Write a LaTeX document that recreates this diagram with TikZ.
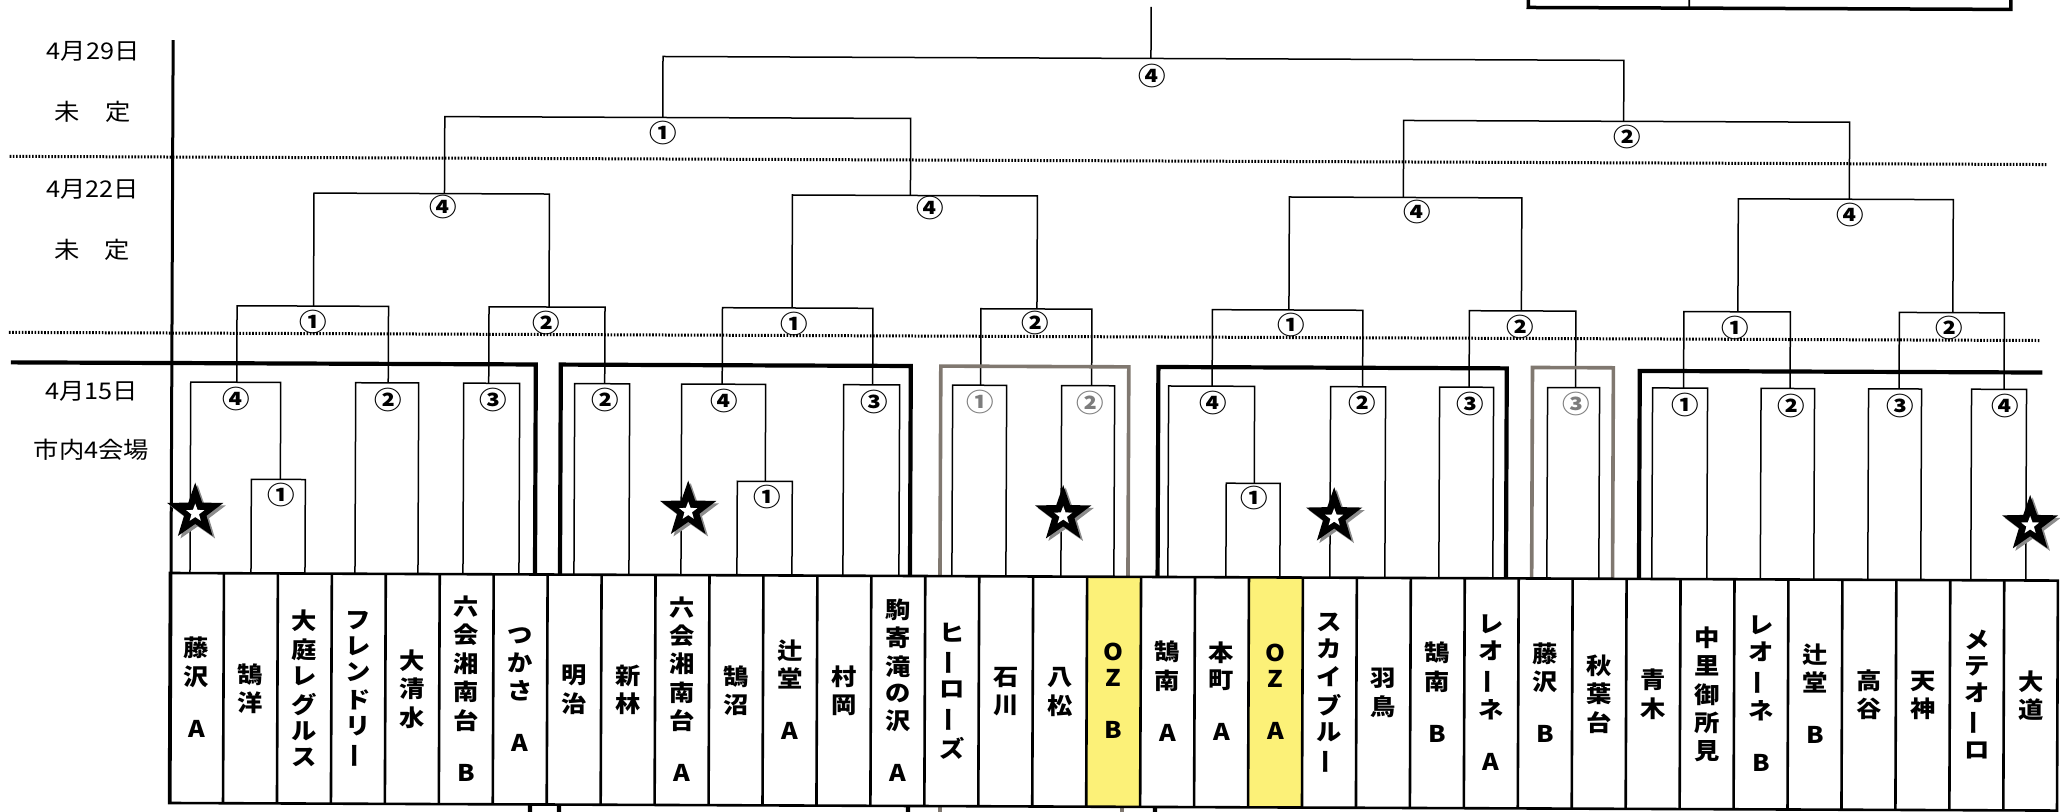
\documentclass[tikz,border=0pt]{standalone}
\usepackage{fontspec}
\usetikzlibrary{shapes.geometric}
\newfontfamily\jp{Noto Sans CJK JP}[FakeStretch=1.1]
\definecolor{boxgray}{RGB}{128,120,112}
\definecolor{labgray}{RGB}{125,125,125}
\definecolor{ozyellow}{RGB}{252,241,120}
\newcommand\Cho{\raisebox{0.17em}{\rotatebox[origin=c]{90}{ー}}}
\tikzset{
  br/.style={line width=1.5pt},
  lab/.style={font=\jp\bfseries\fontsize{25}{25}\selectfont, inner sep=0pt},
  glab/.style={lab, text=labgray},
  team/.style={font=\jp\bfseries\fontsize{23}{26}\selectfont, align=center, inner sep=0pt},
  side/.style={font=\jp\fontsize{23}{23}\selectfont, inner sep=0pt},
  grp/.style={line width=4.2pt},
  ggrp/.style={line width=3.6pt, draw=boxgray},
  tbl/.style={line width=2.6pt},
  axisline/.style={line width=3pt},
  dotl/.style={line width=3pt, dash pattern=on 1.6pt off 1.6pt},
  bstar/.style={star, star points=5, star point ratio=2.5, minimum size=59pt, inner sep=0pt, fill=black},
  sstar/.style={star, star points=5, star point ratio=2.5, minimum size=59pt, inner sep=0pt, fill=black!45},
  wstar/.style={star, star points=5, star point ratio=2.4, minimum size=19pt, inner sep=0pt, fill=white},
}
\begin{document}
\begin{tikzpicture}[x=1pt,y=-1pt]
\useasboundingbox (0,0) rectangle (2060,811);
\fill[white] (0,0) rectangle (2060,811);
\begin{scope}[rotate around={-0.23:(170,573)}]
% top-right partial box
\draw[line width=3.5pt] (1526,-12) -- (1526,2) -- (2008.6,2) -- (2008.6,-12);
\draw[line width=1.6pt] (1687,-12) -- (1687,2);
% side labels
\node[side] (d29) at (91,52) {4月29日};
\node[side] (u29) at (91,112) {未　定};
\node[side] (d22) at (91,190) {4月22日};
\node[side] (u22) at (91,250) {未　定};
\node[side] (d15) at (91,392) {4月15日};
\node[side] (v15) at (91,450) {市内4会場};
% dotted separators
\draw[dotl] (8,157) -- (2046,157);
\draw[dotl] (8,333) -- (2040,333);
% axis
\draw[axisline] (171,40) -- (171,803);
% yellow cells
\fill[ozyellow] ({170+17*53.95},573) rectangle ({170+18*53.95},803);
\fill[ozyellow] ({170+20*53.95},573) rectangle ({170+21*53.95},803);
% feet coordinates
\coordinate (f1) at (190,573);  \coordinate (f2) at (251,573);  \coordinate (f3) at (305,573);
\coordinate (f4) at (355,573);  \coordinate (f5) at (418,573);  \coordinate (f6) at (463,573);
\coordinate (f7) at (519,573);  \coordinate (f8) at (574,573);  \coordinate (f9) at (629,573);
\coordinate (f10) at (681,573); \coordinate (f11) at (737,573); \coordinate (f12) at (792,573);
\coordinate (f13) at (843,573); \coordinate (f14) at (899,573); \coordinate (f15) at (952,573);
\coordinate (f16) at (1006,573);\coordinate (f17) at (1061,573);\coordinate (f18) at (1114,573);
\coordinate (f19) at (1168,573);\coordinate (f20) at (1226,573);\coordinate (f21) at (1280,573);
\coordinate (f22) at (1330,573);\coordinate (f23) at (1385,573);\coordinate (f24) at (1439,573);
\coordinate (f25) at (1493,573);\coordinate (f26) at (1547,573);\coordinate (f27) at (1599,573);
\coordinate (f28) at (1652,573);\coordinate (f29) at (1707,573);\coordinate (f30) at (1760.5,573);
\coordinate (f31) at (1814,573);\coordinate (f32) at (1868,573);\coordinate (f33) at (1921,573);
\coordinate (f34) at (1971,573);\coordinate (f35) at (2026,573);
% match coordinates
\coordinate (m1a) at (280,479);   \coordinate (m1b) at (236,382);
\coordinate (m1c) at (387.5,382); \coordinate (m1d) at (488,382);
\coordinate (m2a) at (604,382);   \coordinate (m2b) at (765,479);
\coordinate (m2c) at (721.5,382); \coordinate (m2d) at (872,382);
\coordinate (m3a) at (980,382);   \coordinate (m3b) at (1091,382);
\coordinate (m4a) at (1254,479);  \coordinate (m4b) at (1211.5,382);
\coordinate (m4c) at (1362,382);  \coordinate (m4d) at (1468.5,382);
\coordinate (m5a) at (1575,382);
\coordinate (m6a) at (1683,382);  \coordinate (m6b) at (1789.5,382);
\coordinate (m6c) at (1898.5,382);\coordinate (m6d) at (2003.5,382);
\coordinate (r1) at (312.5,305.5); \coordinate (r2) at (548,305.5);
\coordinate (r3) at (791,305.5);   \coordinate (r4) at (1036,305.5);
\coordinate (r5) at (1288,305.5);  \coordinate (r6) at (1520.5,305.5);
\coordinate (r7) at (1737,305.5);  \coordinate (r8) at (1952,305.5);
\coordinate (q1) at (443,192.5);   \coordinate (q2) at (909,192.5);
\coordinate (q3) at (1402,192.5);  \coordinate (q4) at (1848,192.5);
\coordinate (s1) at (661,115.5);   \coordinate (s2) at (1622,115.5);
\coordinate (fin) at (1149,54.5);  \coordinate (top) at (1149,3);
% brackets
\draw[br] (f2) |- (m1a) -| (f3);
\draw[br] (f1) |- (m1b) -| (m1a);
\draw[br] (f4) |- (m1c) -| (f5);
\draw[br] (f6) |- (m1d) -| (f7);
\draw[br] (f8) |- (m2a) -| (f9);
\draw[br] (f11) |- (m2b) -| (f12);
\draw[br] (f10) |- (m2c) -| (m2b);
\draw[br] (f13) |- (m2d) -| (f14);
\draw[br] (f15) |- (m3a) -| (f16);
\draw[br] (f17) |- (m3b) -| (f18);
\draw[br] (f20) |- (m4a) -| (f21);
\draw[br] (f19) |- (m4b) -| (m4a);
\draw[br] (f22) |- (m4c) -| (f23);
\draw[br] (f24) |- (m4d) -| (f25);
\draw[br] (f26) |- (m5a) -| (f27);
\draw[br] (f28) |- (m6a) -| (f29);
\draw[br] (f30) |- (m6b) -| (f31);
\draw[br] (f32) |- (m6c) -| (f33);
\draw[br] (f34) |- (m6d) -| (f35);
\draw[br] (m1b) |- (r1) -| (m1c);
\draw[br] (m1d) |- (r2) -| (m2a);
\draw[br] (m2c) |- (r3) -| (m2d);
\draw[br] (m3a) |- (r4) -| (m3b);
\draw[br] (m4b) |- (r5) -| (m4c);
\draw[br] (m4d) |- (r6) -| (m5a);
\draw[br] (m6a) |- (r7) -| (m6b);
\draw[br] (m6c) |- (r8) -| (m6d);
\draw[br] (r1) |- (q1) -| (r2);
\draw[br] (r3) |- (q2) -| (r4);
\draw[br] (r5) |- (q3) -| (r6);
\draw[br] (r7) |- (q4) -| (r8);
\draw[br] (q1) |- (s1) -| (q2);
\draw[br] (q3) |- (s2) -| (q4);
\draw[br] (s1) |- (fin) -| (s2);
\draw[br] (fin) -- (top);
% group boxes
\draw[grp] (10,363) -- (535,363) -- (535,573);
\draw[grp] (560,573) -- (560,363) -- (910,363) -- (910,573);
\draw[ggrp] (940,573) -- (940,363) -- (1128,363) -- (1128,573);
\draw[grp] (1157.6,573) -- (1157.6,363) -- (1506,363) -- (1506,573);
\draw[ggrp] (1531.7,573) -- (1531.7,362) -- (1612.6,362) -- (1612.6,573);
\draw[grp] (1639,573) -- (1639,365) -- (2041.7,365);
% stubs below the table
\draw[grp] (531,803) -- (531,816);
\draw[grp] (560,803) -- (560,816);
\draw[grp] (909,803) -- (909,816);
\draw[ggrp] (941,803) -- (941,816);
\draw[ggrp] (1123,803) -- (1123,816);
\draw[grp] (1156,803) -- (1156,816);
% labels
\node[lab] (l1a) at (281,494.5) {①};
\node[lab] (l1b) at (236,398.5) {④};
\node[lab] (l1c) at (387.5,399) {②};
\node[lab] (l1d) at (493,399) {③};
\node[lab] (l2a) at (605,398) {②};
\node[lab] (l2b) at (767,494.5) {①};
\node[lab] (l2c) at (724,398.5) {④};
\node[lab] (l2d) at (874,399) {③};
\node[glab] (l3a) at (980,399) {①};
\node[glab] (l3b) at (1090,399) {②};
\node[lab] (l4a) at (1254,494) {①};
\node[lab] (l4b) at (1213,398.5) {④};
\node[lab] (l4c) at (1362,398.5) {②};
\node[lab] (l4d) at (1470,398.5) {③};
\node[glab] (l5a) at (1576,398.5) {③};
\node[lab] (l6a) at (1685,399) {①};
\node[lab] (l6b) at (1791,399) {②};
\node[lab] (l6c) at (1900,399) {③};
\node[lab] (l6d) at (2005,398.5) {④};
\node[lab] (lr1) at (312.5,321) {①};
\node[lab] (lr2) at (545.5,321) {②};
\node[lab] (lr3) at (793,321) {①};
\node[lab] (lr4) at (1034,320) {②};
\node[lab] (lr5) at (1290.5,320.5) {①};
\node[lab] (lr6) at (1519.5,321.5) {②};
\node[lab] (lr7) at (1734,321.5) {①};
\node[lab] (lr8) at (1948.5,321) {②};
\node[lab] (lq1) at (442,205.5) {④};
\node[lab] (lq2) at (929,205) {④};
\node[lab] (lq3) at (1416,207) {④};
\node[lab] (lq4) at (1849,208) {④};
\node[lab] (ls1) at (661,131) {①};
\node[lab] (ls2) at (1625.5,131.5) {②};
\node[lab] (lf) at (1150,72) {④};
% stars
\foreach \nm/\sx/\sy in {a/195/512, b/688/508, c/1063/511, d/1334/512, e/2030/517}{
  \node[sstar] (sh\nm) at (\sx+2.5,\sy+2.5) {};
  \node[bstar] (st\nm) at (\sx,\sy) {};
  \node[wstar] (sw\nm) at (\sx,\sy+1) {};
}
% name table
\draw[tbl] (170,573) rectangle (2058,803);
\foreach \i in {1,...,34} \draw[tbl] ({170+\i*53.95},573) -- ({170+\i*53.95},803);
% team names
\node[team] (t1) at ({170+0.5*53.95},691) {\strut 藤\\\strut 沢\\\strut\\\strut A};
\node[team] (t2) at ({170+1.5*53.95},691) {\strut 鵠\\\strut 洋};
\node[team] (t3) at ({170+2.5*53.95},691) {\strut 大\\\strut 庭\\\strut レ\\\strut グ\\\strut ル\\\strut ス};
\node[team] (t4) at ({170+3.5*53.95},691) {\strut フ\\\strut レ\\\strut ン\\\strut ド\\\strut リ\\\strut\Cho};
\node[team] (t5) at ({170+4.5*53.95},691) {\strut 大\\\strut 清\\\strut 水};
\node[team] (t6) at ({170+5.5*53.95},691) {\strut 六\\\strut 会\\\strut 湘\\\strut 南\\\strut 台\\\strut\\\strut B};
\node[team] (t7) at ({170+6.5*53.95},691) {\strut つ\\\strut か\\\strut さ\\\strut\\\strut A};
\node[team] (t8) at ({170+7.5*53.95},691) {\strut 明\\\strut 治};
\node[team] (t9) at ({170+8.5*53.95},691) {\strut 新\\\strut 林};
\node[team] (t10) at ({170+9.5*53.95},691) {\strut 六\\\strut 会\\\strut 湘\\\strut 南\\\strut 台\\\strut\\\strut A};
\node[team] (t11) at ({170+10.5*53.95},691) {\strut 鵠\\\strut 沼};
\node[team] (t12) at ({170+11.5*53.95},691) {\strut 辻\\\strut 堂\\\strut\\\strut A};
\node[team] (t13) at ({170+12.5*53.95},691) {\strut 村\\\strut 岡};
\node[team] (t14) at ({170+13.5*53.95},691) {\strut 駒\\\strut 寄\\\strut 滝\\\strut の\\\strut 沢\\\strut\\\strut A};
\node[team] (t15) at ({170+14.5*53.95},691) {\strut ヒ\\\strut\Cho\\\strut ロ\\\strut\Cho\\\strut ズ};
\node[team] (t16) at ({170+15.5*53.95},691) {\strut 石\\\strut 川};
\node[team] (t17) at ({170+16.5*53.95},691) {\strut 八\\\strut 松};
\node[team] (t18) at ({170+17.5*53.95},691) {\strut O\\\strut Z\\\strut\\\strut B};
\node[team] (t19) at ({170+18.5*53.95},691) {\strut 鵠\\\strut 南\\\strut\\\strut A};
\node[team] (t20) at ({170+19.5*53.95},691) {\strut 本\\\strut 町\\\strut\\\strut A};
\node[team] (t21) at ({170+20.5*53.95},691) {\strut O\\\strut Z\\\strut\\\strut A};
\node[team] (t22) at ({170+21.5*53.95},691) {\strut ス\\\strut カ\\\strut イ\\\strut ブ\\\strut ル\\\strut\Cho};
\node[team] (t23) at ({170+22.5*53.95},691) {\strut 羽\\\strut 鳥};
\node[team] (t24) at ({170+23.5*53.95},691) {\strut 鵠\\\strut 南\\\strut\\\strut B};
\node[team] (t25) at ({170+24.5*53.95},691) {\strut レ\\\strut オ\\\strut\Cho\\\strut ネ\\\strut\\\strut A};
\node[team] (t26) at ({170+25.5*53.95},691) {\strut 藤\\\strut 沢\\\strut\\\strut B};
\node[team] (t27) at ({170+26.5*53.95},691) {\strut 秋\\\strut 葉\\\strut 台};
\node[team] (t28) at ({170+27.5*53.95},691) {\strut 青\\\strut 木};
\node[team] (t29) at ({170+28.5*53.95},691) {\strut 中\\\strut 里\\\strut 御\\\strut 所\\\strut 見};
\node[team] (t30) at ({170+29.5*53.95},691) {\strut レ\\\strut オ\\\strut\Cho\\\strut ネ\\\strut\\\strut B};
\node[team] (t31) at ({170+30.5*53.95},691) {\strut 辻\\\strut 堂\\\strut\\\strut B};
\node[team] (t32) at ({170+31.5*53.95},691) {\strut 高\\\strut 谷};
\node[team] (t33) at ({170+32.5*53.95},691) {\strut 天\\\strut 神};
\node[team] (t34) at ({170+33.5*53.95},691) {\strut メ\\\strut テ\\\strut オ\\\strut\Cho\\\strut ロ};
\node[team] (t35) at ({170+34.5*53.95},691) {\strut 大\\\strut 道};
\end{scope}
\end{tikzpicture}
\end{document}
